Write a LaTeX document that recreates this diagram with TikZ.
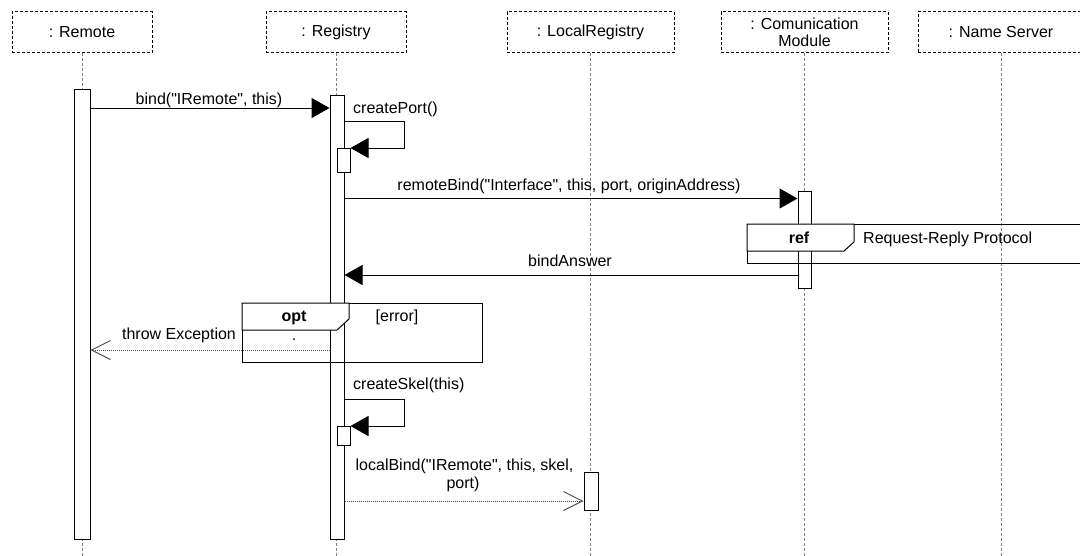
\documentclass[tikz,border=0pt]{standalone}
\usepackage{fontspec}
\setmainfont{Liberation Sans}[Ligatures=TeXOff]
\usetikzlibrary{arrows.meta}
\begin{document}
\begin{tikzpicture}[x=1pt,y=-1pt,
  every node/.style={font=\fontsize{16}{18}\selectfont},
  head/.style={draw, line width=1pt, dash pattern=on 3pt off 2pt, minimum height=41pt, inner sep=0pt, align=center},
  life/.style={draw=black!50, line width=1pt, dash pattern=on 3pt off 2pt},
  act/.style={draw, fill=white, line width=1pt, inner sep=0pt, anchor=north},
  msg/.style={line width=1pt, -{Triangle[length=18pt,width=20pt]}},
  ret/.style={draw=black!70, line width=1pt, dash pattern=on 1pt off 1pt, -{Straight Barb[length=19pt,width=19pt]}},
  lbl/.style={inner sep=0pt, anchor=base},
  lblw/.style={inner sep=0pt, anchor=base west},
  frm/.style={draw, line width=1pt, inner sep=0pt, anchor=north west},
  tab/.style={draw, fill=white, line width=1pt}]

\useasboundingbox (0,0) rectangle (1080,555);
\coordinate (bottom) at (0,556);

% object heads
\node[head, minimum width=140pt] (hRemote) at (82,32) {: Remote};
\node[head, minimum width=140pt] (hReg) at (336,32) {: Registry};
\node[head, minimum width=167pt] (hLocal) at (590.5,32) {: LocalRegistry};
\node[head, minimum width=167pt] (hComm) at (804.5,32) {: Comunication\\[-1pt]Module};
\node[head, minimum width=166pt] (hName) at (1001,32) {: Name Server};

% lifelines
\foreach \h in {hRemote,hReg,hLocal,hComm,hName}
  \draw[life] (\h.south) -- (\h.south |- bottom);

% activation bars
\node[act, minimum width=16pt, minimum height=450pt] (aRemote) at (82,89) {};
\node[act, minimum width=14pt, minimum height=444pt] (aReg) at (337,95) {};
\node[act, minimum width=13pt, minimum height=24pt] (aSubA) at (343.5,148) {};
\node[act, minimum width=13pt, minimum height=19pt] (aSubB) at (343.5,426) {};
\node[act, minimum width=13pt, minimum height=97pt] (aComm) at (804.5,191) {};
\node[act, minimum width=14pt, minimum height=38pt] (aLocal) at (591,472) {};

% message levels
\coordinate (yBind) at (0,108);
\coordinate (yPort) at (0,121);
\coordinate (yRemote) at (0,198.5);
\coordinate (yAnswer) at (0,275);
\coordinate (yThrow) at (0,350);
\coordinate (ySkel) at (0,399);
\coordinate (yLocal) at (0,501);

% messages
\draw[msg] (aRemote.east |- yBind) -- (aReg.west |- yBind);
\draw[msg] (aReg.east |- yPort) -- ++(60,0) -- ++(0,27) -- (aSubA.north east);
\draw[msg] (aReg.east |- yRemote) -- (aComm.west |- yRemote);
\draw[msg] (aComm.west |- yAnswer) -- (aReg.east |- yAnswer);
\draw[ret] (aReg.west |- yThrow) -- (aRemote.east |- yThrow);
\draw[msg] (aReg.east |- ySkel) -- ++(60,0) -- ++(0,27) -- (aSubB.north east);
\draw[ret] (aReg.east |- yLocal) -- (aLocal.west |- yLocal);

% message labels
\node[lbl] (tBind) at (209,104) {bind("IRemote", this)};
\node[lblw] (tPort) at (353,113) {createPort()};
\node[lbl] (tRemote) at (569,190) {remoteBind("Interface", this, port, originAddress)};
\node[lbl] (tAnswer) at (570,266) {bindAnswer};
\node[lbl] (tThrow) at (179,339) {throw Exception};
\node[lblw] (tSkel) at (353,389) {createSkel(this)};
\node[lbl] (tLocalA) at (464.5,470) {localBind("IRemote", this, skel,};
\node[lbl] (tLocalB) at (463,488) {port)};

% interaction use: ref
\node[frm, minimum width=345pt, minimum height=39pt] (fRef) at (747,224) {};
\draw[tab] (fRef.north west) -- ++(107,0) -- ++(0,18) -- ++(-10,9) -- (fRef.north west |- 0,251) -- cycle;
\node[lbl, font=\fontsize{16}{18}\selectfont\bfseries] (tRef) at (799,243) {ref};
\node[lblw] (tProto) at (863,243) {Request-Reply Protocol};

% combined fragment: opt
\node[frm, minimum width=240pt, minimum height=59pt] (fOpt) at (242,303) {};
\draw[tab] (fOpt.north west) -- ++(107,0) -- ++(0,16) -- ++(-12,11) -- (fOpt.north west |- 0,330) -- cycle;
\node[lbl, font=\fontsize{16}{18}\selectfont\bfseries] (tOpt) at (294,321) {opt};
\node[lbl] (tGuard) at (397,321) {[error]};
\node[lbl] (tDot) at (294,340) {.};
\end{tikzpicture}
\end{document}
